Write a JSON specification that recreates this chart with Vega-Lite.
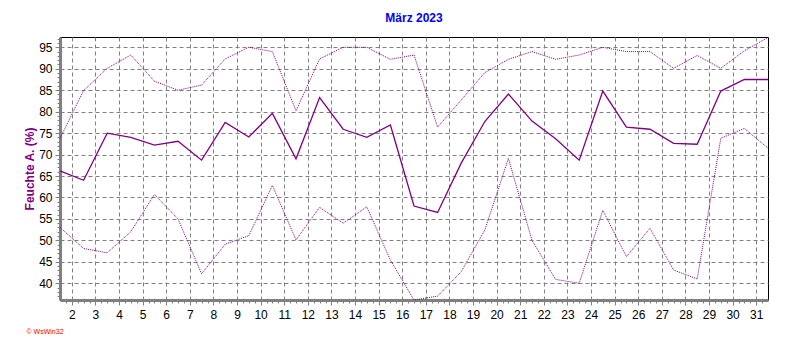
{
  "$schema": "https://vega.github.io/schema/vega-lite/v6.json",
  "width": 708,
  "height": 263,
  "autosize": {"type": "none"},
  "padding": {"left": 60, "top": 37, "right": 24, "bottom": 50},
  "background": "white",
  "title": {"text": "März 2023", "color": "#0000FF", "font": "Liberation Sans", "fontSize": 12, "fontWeight": "bold", "anchor": "middle", "offset": 10},
  "config": {
    "view": {"stroke": "#000000", "strokeWidth": 1},
    "axis": {
      "labelFont": "Liberation Sans", "labelFontSize": 12, "labelColor": "#000000",
      "domainColor": "#808080", "domainWidth": 3,
      "tickColor": "#808080", "tickSize": 5, "tickWidth": 1,
      "gridColor": "#808080", "gridDash": [4, 3], "gridWidth": 1, "gridOpacity": 1
    }
  },
  "resolve": {"axis": {"x": "independent", "y": "independent"}},
  "data": {"values": [
    {"day": 1, "max": 73.8, "mean": 66.2, "min": 53.0},
    {"day": 2, "max": 84.9, "mean": 64.0, "min": 48.1},
    {"day": 3, "max": 90.1, "mean": 75.0, "min": 47.1},
    {"day": 4, "max": 93.2, "mean": 74.0, "min": 52.0},
    {"day": 5, "max": 87.1, "mean": 72.2, "min": 60.7},
    {"day": 6, "max": 85.0, "mean": 73.1, "min": 55.0},
    {"day": 7, "max": 86.2, "mean": 68.7, "min": 42.2},
    {"day": 8, "max": 92.3, "mean": 77.5, "min": 49.1},
    {"day": 9, "max": 95.0, "mean": 74.1, "min": 51.1},
    {"day": 10, "max": 94.0, "mean": 79.6, "min": 62.8},
    {"day": 11, "max": 80.2, "mean": 69.0, "min": 50.1},
    {"day": 12, "max": 92.3, "mean": 83.3, "min": 57.7},
    {"day": 13, "max": 95.0, "mean": 75.9, "min": 54.0},
    {"day": 14, "max": 95.0, "mean": 74.0, "min": 57.8},
    {"day": 15, "max": 92.2, "mean": 76.9, "min": 45.4},
    {"day": 16, "max": 93.2, "mean": 58.0, "min": 36.1},
    {"day": 17, "max": 76.4, "mean": 56.5, "min": 37.0},
    {"day": 18, "max": 82.7, "mean": 68.0, "min": 42.7},
    {"day": 19, "max": 89.1, "mean": 77.7, "min": 52.4},
    {"day": 20, "max": 92.2, "mean": 84.1, "min": 69.1},
    {"day": 21, "max": 94.0, "mean": 77.8, "min": 50.0},
    {"day": 22, "max": 92.2, "mean": 73.7, "min": 40.9},
    {"day": 23, "max": 93.2, "mean": 68.7, "min": 40.0},
    {"day": 24, "max": 95.0, "mean": 84.8, "min": 57.0},
    {"day": 25, "max": 94.0, "mean": 76.4, "min": 46.2},
    {"day": 26, "max": 94.0, "mean": 75.9, "min": 52.8},
    {"day": 27, "max": 90.1, "mean": 72.6, "min": 43.1},
    {"day": 28, "max": 93.1, "mean": 72.4, "min": 41.0},
    {"day": 29, "max": 90.1, "mean": 84.8, "min": 73.8},
    {"day": 30, "max": 94.2, "mean": 87.5, "min": 76.1},
    {"day": 31, "max": 97.3, "mean": 87.5, "min": 71.5}
  ]},
  "layer": [
    {
      "mark": {"type": "line", "color": "#800080", "strokeWidth": 1, "strokeDash": [1, 1]},
      "encoding": {
        "x": {
          "field": "day", "type": "quantitative",
          "scale": {"domain": [1, 31], "nice": false, "zero": false},
          "axis": {
            "values": [1.5, 2.5, 3.5, 4.5, 5.5, 6.5, 7.5, 8.5, 9.5, 10.5, 11.5, 12.5, 13.5, 14.5, 15.5, 16.5, 17.5, 18.5, 19.5, 20.5, 21.5, 22.5, 23.5, 24.5, 25.5, 26.5, 27.5, 28.5, 29.5, 30.5],
            "labelExpr": "format(datum.value + 0.5, 'd')",
            "labelPadding": 4,
            "labelFlush": false,
            "labelOverlap": false,
            "title": "© WsWin32",
            "titleColor": "#FF0000",
            "titleFont": "Liberation Sans",
            "titleFontSize": 7,
            "titleFontWeight": "normal",
            "titleAnchor": "start",
            "titleAlign": "left",
            "titleX": -34,
            "titleY": 27
          }
        },
        "y": {
          "field": "max", "type": "quantitative",
          "scale": {"domain": [36.1, 97.4], "nice": false, "zero": false},
          "axis": {
            "values": [40, 45, 50, 55, 60, 65, 70, 75, 80, 85, 90, 95],
            "labelPadding": 3,
            "labelOverlap": false,
            "labelFlush": false,
            "title": "Feuchte A. (%)",
            "titleColor": "#800080",
            "titleFont": "Liberation Sans",
            "titleFontSize": 12,
            "titleFontWeight": "bold",
            "titlePadding": 2
          }
        }
      }
    },
    {
      "mark": {"type": "line", "color": "#800080", "strokeWidth": 1.3},
      "encoding": {
        "x": {
          "field": "day", "type": "quantitative",
          "axis": {
            "orient": "bottom",
            "values": [1.25, 1.75, 2, 2.25, 2.75, 3, 3.25, 3.75, 4, 4.25, 4.75, 5, 5.25, 5.75, 6, 6.25, 6.75, 7, 7.25, 7.75, 8, 8.25, 8.75, 9, 9.25, 9.75, 10, 10.25, 10.75, 11, 11.25, 11.75, 12, 12.25, 12.75, 13, 13.25, 13.75, 14, 14.25, 14.75, 15, 15.25, 15.75, 16, 16.25, 16.75, 17, 17.25, 17.75, 18, 18.25, 18.75, 19, 19.25, 19.75, 20, 20.25, 20.75, 21, 21.25, 21.75, 22, 22.25, 22.75, 23, 23.25, 23.75, 24, 24.25, 24.75, 25, 25.25, 25.75, 26, 26.25, 26.75, 27, 27.25, 27.75, 28, 28.25, 28.75, 29, 29.25, 29.75, 30, 30.25, 30.75],
            "labels": false, "domain": false, "grid": false, "title": null,
            "tickSize": 3
          }
        },
        "y": {
          "field": "mean", "type": "quantitative",
          "axis": {
            "orient": "left",
            "values": [37, 38, 39, 41, 42, 43, 44, 46, 47, 48, 49, 51, 52, 53, 54, 56, 57, 58, 59, 61, 62, 63, 64, 66, 67, 68, 69, 71, 72, 73, 74, 76, 77, 78, 79, 81, 82, 83, 84, 86, 87, 88, 89, 91, 92, 93, 94, 96, 97],
            "labels": false, "domain": false, "grid": false, "title": null,
            "tickSize": 3
          }
        }
      }
    },
    {
      "mark": {"type": "line", "color": "#800080", "strokeWidth": 1, "strokeDash": [1, 1]},
      "encoding": {
        "x": {"field": "day", "type": "quantitative", "axis": null},
        "y": {"field": "min", "type": "quantitative", "axis": null}
      }
    }
  ]
}
